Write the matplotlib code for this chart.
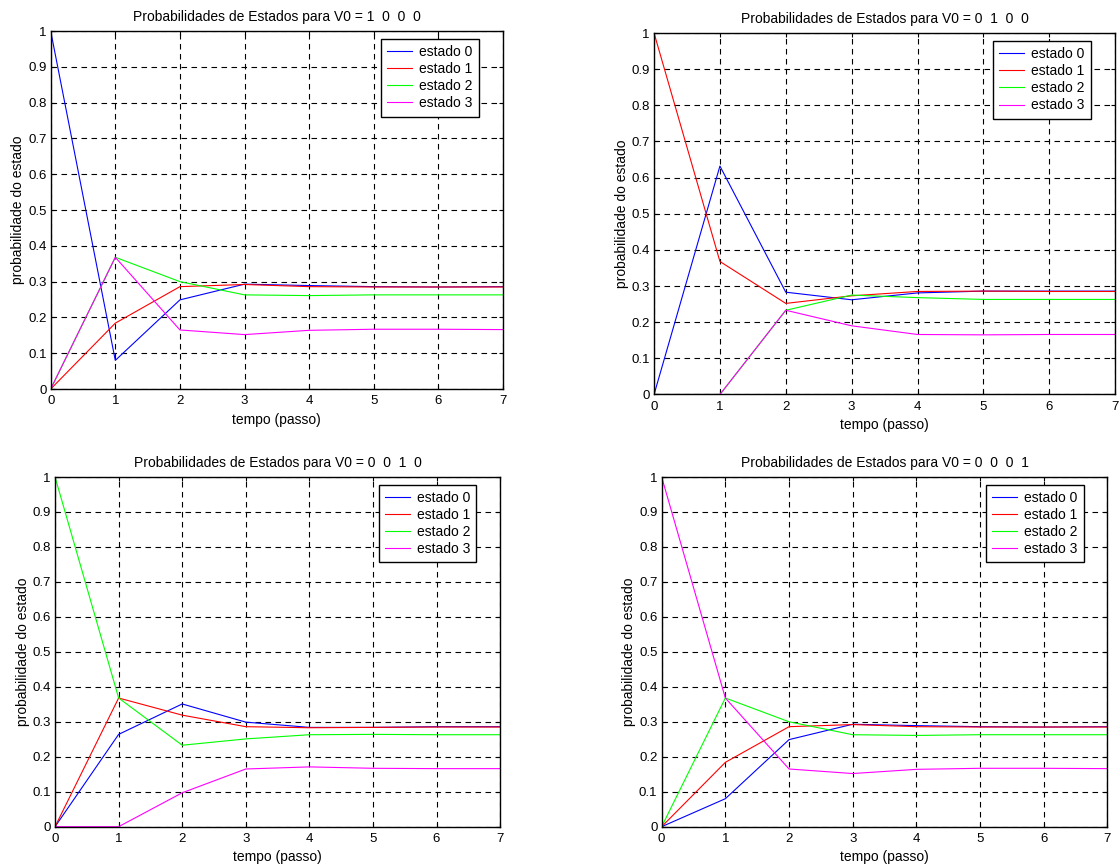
import numpy as np
import matplotlib
matplotlib.use('Agg')
import matplotlib.pyplot as plt

plt.rcParams['font.family'] = ['Liberation Sans', 'DejaVu Sans']
plt.rcParams['font.size'] = 10

passos = [0, 1, 2, 3, 4, 5, 6, 7]
estados = ['estado 0', 'estado 1', 'estado 2', 'estado 3']
cores = ['#0000ff', '#ff0000', '#00ff00', '#ff00ff']

# V0 = 1 0 0 0
v0_1000 = [
    [1.0, 0.080, 0.249, 0.293, 0.289, 0.286, 0.285, 0.286],
    [0.0, 0.184, 0.286, 0.292, 0.286, 0.285, 0.285, 0.285],
    [0.0, 0.368, 0.300, 0.263, 0.261, 0.263, 0.263, 0.263],
    [0.0, 0.368, 0.165, 0.152, 0.164, 0.167, 0.167, 0.166],
]
# V0 = 0 1 0 0
v0_0100 = [
    [0.0, 0.632, 0.283, 0.262, 0.281, 0.286, 0.286, 0.286],
    [1.0, 0.368, 0.252, 0.273, 0.285, 0.286, 0.285, 0.285],
    [0.0, 0.0, 0.233, 0.275, 0.268, 0.263, 0.263, 0.263],
    [0.0, 0.0, 0.233, 0.190, 0.166, 0.165, 0.166, 0.166],
]
# V0 = 0 0 1 0
v0_0010 = [
    [0.0, 0.264, 0.351, 0.299, 0.284, 0.284, 0.286, 0.286],
    [0.0, 0.368, 0.319, 0.286, 0.283, 0.284, 0.285, 0.285],
    [1.0, 0.368, 0.233, 0.251, 0.263, 0.264, 0.263, 0.263],
    [0.0, 0.0, 0.097, 0.165, 0.171, 0.167, 0.166, 0.166],
]
# V0 = 0 0 0 1
v0_0001 = [
    [0.0, 0.080, 0.249, 0.293, 0.289, 0.286, 0.285, 0.286],
    [0.0, 0.184, 0.286, 0.292, 0.286, 0.285, 0.285, 0.285],
    [0.0, 0.368, 0.300, 0.263, 0.261, 0.263, 0.263, 0.263],
    [1.0, 0.368, 0.165, 0.152, 0.164, 0.167, 0.167, 0.166],
]

titulos = ['Probabilidades de Estados para V0 = 1  0  0  0',
           'Probabilidades de Estados para V0 = 0  1  0  0',
           'Probabilidades de Estados para V0 = 0  0  1  0',
           'Probabilidades de Estados para V0 = 0  0  0  1']
dados = [v0_1000, v0_0100, v0_0010, v0_0001]

# axes rectangles (left, bottom, width, height) in figure fraction
posicoes = [
    [0.0453, 0.5513, 0.4042, 0.4129],
    [0.5845, 0.5450, 0.4120, 0.4169],
    [0.0492, 0.0465, 0.3977, 0.4033],
    [0.5913, 0.0465, 0.3984, 0.4033],
]

fig = plt.figure(figsize=(11.19, 8.67), dpi=100)

for titulo, serie, pos in zip(titulos, dados, posicoes):
    ax = fig.add_axes(pos)
    for valores, cor, nome in zip(serie, cores, estados):
        ax.plot(passos, valores, color=cor, lw=0.8, label=nome)
    ax.set_xlim(0, 7)
    ax.set_ylim(0, 1)
    ax.set_xticks(np.arange(0, 8, 1))
    ax.set_yticks(np.arange(0, 1.01, 0.1))
    ax.set_yticklabels(['0', '0.1', '0.2', '0.3', '0.4', '0.5',
                        '0.6', '0.7', '0.8', '0.9', '1'])
    ax.grid(True, color='black', linestyle=(0, (5, 4)), lw=0.8)
    ax.tick_params(direction='in', top=True, right=True, length=3,
                   labelsize=9.5)
    ax.tick_params(axis='x', pad=4.5)
    ax.tick_params(axis='y', pad=3)
    for s in ax.spines.values():
        s.set_linewidth(1.0)
    ax.set_title(titulo, fontsize=10, pad=7)
    ax.set_xlabel('tempo (passo)', fontsize=10, labelpad=4)
    ax.set_ylabel('probabilidade do estado', fontsize=10, labelpad=2)
    leg = ax.legend(loc='upper right', bbox_to_anchor=(0.947, 0.978),
                    borderaxespad=0, fancybox=False, framealpha=1,
                    edgecolor='black', fontsize=10, handlelength=1.8,
                    handletextpad=0.5, labelspacing=0.22, borderpad=0.45)
    leg.get_frame().set_linewidth(1.0)

fig.savefig('out.png', dpi=100)
